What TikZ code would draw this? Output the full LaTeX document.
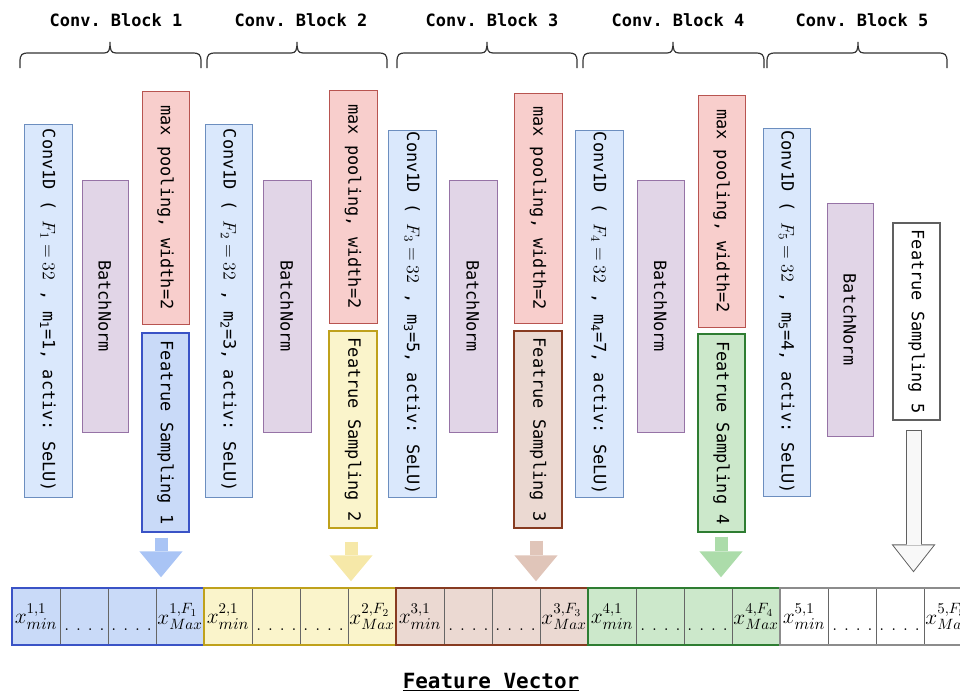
\RequirePackage{fix-cm}
\documentclass[tikz,border=0pt]{standalone}
\usepackage{fontspec}
\usepackage{graphicx}
\setmonofont{DejaVu Sans Mono}
\usetikzlibrary{arrows.meta,calc}
\definecolor{convf}{HTML}{DAE8FC}\definecolor{convd}{HTML}{6C8EBF}
\definecolor{bnf}{HTML}{E1D5E7}\definecolor{bnd}{HTML}{9673A6}
\definecolor{mpf}{HTML}{F8CECC}\definecolor{mpd}{HTML}{B85450}
\definecolor{fsAf}{HTML}{C9DAF8}\definecolor{fsAd}{HTML}{3A53C6}\definecolor{arA}{HTML}{A9C4F5}
\definecolor{fsBf}{HTML}{FAF4CB}\definecolor{fsBd}{HTML}{BFA11B}\definecolor{arB}{HTML}{F6E8A8}
\definecolor{fsCf}{HTML}{EBD9D2}\definecolor{fsCd}{HTML}{873B21}\definecolor{arC}{HTML}{E0C5B9}
\definecolor{fsDf}{HTML}{CCE8CB}\definecolor{fsDd}{HTML}{2E7D32}\definecolor{arD}{HTML}{ACDCAA}
\definecolor{fsEf}{HTML}{FFFFFF}\definecolor{fsEd}{HTML}{606060}\definecolor{arEf}{HTML}{F8F8F8}
\definecolor{vecE}{HTML}{8C8C8C}
\definecolor{braceC}{HTML}{333333}
\newcommand\mybrace[3]{%
  \draw[bracestyle] (#1,68) -- (#1,62) .. controls (#1,54) and (#1+2,53) .. (#1+9,53)
    -- (#2-6,53) .. controls (#2-1,53) and (#2,50) .. (#2,42)
    .. controls (#2,50) and (#2+1,53) .. (#2+6,53)
    -- (#3-9,53) .. controls (#3-2,53) and (#3,54) .. (#3,62) -- (#3,68);}
\newcommand\mymath[1]{{\fontsize{13.5}{15}\selectfont$#1$}}
\newcommand\myvblock[4]{%
  \node[cell, fill=#3] (v#1a) at (#2+24,616.5) {};
  \node[cell, fill=#3] (v#1b) at (#2+72,616.5) {};
  \node[cell, fill=#3] (v#1c) at (#2+120,616.5) {};
  \node[cell, fill=#3] (v#1d) at (#2+168,616.5) {};
  \node[celltext] (t#1a) at (v#1a) {$x^{#1,1}_{\scalebox{1.1}{$\scriptstyle min$}}$};
  \node[celltext] (t#1d) at (v#1d) {$x^{#1,F_#1}_{Max}$};
  \node[celltext, anchor=base] (d#1) at (#2+96,630) {\makebox[66pt]{.\hfill.\hfill.\hfill.\hfill.\hfill.\hfill.\hfill.}};
  \node[vblk, draw=#4] (vec#1) at (#2+96,616.5) {};}
\begin{document}
\begin{tikzpicture}[x=0.75pt, y=-0.75pt,
  vbox/.style args={#1/#2}{rotate=-90, minimum width=#1*0.75pt, minimum height=#2*0.75pt,
    inner sep=0pt, line width=0.75pt, font=\fontsize{12.7}{15}\selectfont\ttfamily, text=black},
  conv/.style={vbox=#1, fill=convf, draw=convd},
  bn/.style={vbox=#1, fill=bnf, draw=bnd},
  mp/.style={vbox=#1, fill=mpf, draw=mpd},
  fs/.style args={#1/#2/#3/#4}{vbox={#1/#2}, fill=#3, draw=#4, line width=1pt},
  title/.style={font=\fontsize{12.7}{15}\selectfont\ttfamily\bfseries, inner sep=0pt},
  bracestyle/.style={draw=braceC, line width=0.9pt},
  cell/.style={draw=black!60, line width=0.75pt, minimum width=36pt, minimum height=42.75pt, inner sep=0pt},
  celltext/.style={font=\fontsize{16}{18}\selectfont, inner sep=0pt},
  vblk/.style={line width=1.1pt, minimum width=144pt, minimum height=42.75pt, inner sep=0pt},
  farrow/.style={line width=9.75pt, -{Triangle[width=32.5pt,length=19.5pt,line width=0pt]}},
]
\useasboundingbox (0,0) rectangle (960,694);
% titles and braces
\node[title] (h1) at (116,20) {Conv. Block 1};
\node[title] (h2) at (301,20) {Conv. Block 2};
\node[title] (h3) at (492,20) {Conv. Block 3};
\node[title] (h4) at (678,20) {Conv. Block 4};
\node[title] (h5) at (862,20) {Conv. Block 5};
\mybrace{20}{110}{201}
\mybrace{207}{297}{387}
\mybrace{397}{487}{577}
\mybrace{583}{673}{764}
\mybrace{767}{858}{947}
% block 1
\node[conv=373/48] (c1) at (48,310.5) {Conv1D ( \mymath{F_1 = 32} , m\textsubscript{1}=1, activ: SeLU)};
\node[bn=252/46] (b1) at (105,306) {BatchNorm};
\node[mp=233/47] (p1) at (165.5,207.5) {max pooling, width=2};
\node[fs=199/47/fsAf/fsAd] (s1) at (165.5,432.5) {Featrue Sampling 1};
% block 2
\node[conv=373/47] (c2) at (228.5,310.5) {Conv1D ( \mymath{F_2 = 32} , m\textsubscript{2}=3, activ: SeLU)};
\node[bn=252/48] (b2) at (287,306) {BatchNorm};
\node[mp=233/48] (p2) at (353,206.5) {max pooling, width=2};
\node[fs=197/48/fsBf/fsBd] (s2) at (353,429.5) {Featrue Sampling 2};
% block 3
\node[conv=367/48] (c3) at (412,313.5) {Conv1D ( \mymath{F_3 = 32} , m\textsubscript{3}=5, activ: SeLU)};
\node[bn=252/48] (b3) at (473,306) {BatchNorm};
\node[mp=230/48] (p3) at (538,208) {max pooling, width=2};
\node[fs=197/48/fsCf/fsCd] (s3) at (538,429.5) {Featrue Sampling 3};
% block 4
\node[conv=367/48] (c4) at (599,313.5) {Conv1D ( \mymath{F_4 = 32} , m\textsubscript{4}=7, activ: SeLU)};
\node[bn=252/47] (b4) at (660.5,306) {BatchNorm};
\node[mp=232/47] (p4) at (721.5,211) {max pooling, width=2};
\node[fs=198/47/fsDf/fsDd] (s4) at (721.5,433) {Featrue Sampling 4};
% block 5
\node[conv=368/47] (c5) at (786.5,312) {Conv1D ( \mymath{F_5 = 32} , m\textsubscript{5}=4, activ: SeLU)};
\node[bn=233/46] (b5) at (850,319.5) {BatchNorm};
\node[fs=197/47/fsEf/fsEd] (s5) at (916.5,321.5) {Featrue Sampling 5};
% feature vector
\myvblock{1}{12}{fsAf}{fsAd}
\myvblock{2}{204}{fsBf}{fsBd}
\myvblock{3}{396}{fsCf}{fsCd}
\myvblock{4}{588}{fsDf}{fsDd}
\myvblock{5}{780}{fsEf}{vecE}
\node[font=\fontsize{15.7}{18}\selectfont\ttfamily\bfseries, anchor=base, inner sep=0pt] (fv) at (491,688) {\underline{Feature Vector}};
% arrows
\coordinate (a1) at ($(s1.east)+(-4.5,0)$);
\coordinate (a2) at ($(s2.east)+(-2,0)$);
\coordinate (a3) at ($(s3.east)+(-2,0)$);
\coordinate (a4) at ($(s4.east)+(-0.5,0)$);
\coordinate (a5) at ($(s5.east)+(-3,0)$);
\draw[farrow, arA, shorten <=3.75pt, shorten >=7.5pt] (a1) -- (a1 |- vec1.north);
\draw[farrow, arB, shorten <=9.75pt, shorten >=4.5pt] (a2) -- (a2 |- vec2.north);
\draw[farrow, arC, shorten <=9pt, shorten >=4.5pt] (a3) -- (a3 |- vec3.north);
\draw[farrow, arD, shorten <=3pt, shorten >=7.5pt] (a4) -- (a4 |- vec4.north);
\draw[line width=12pt, fsEd, -{Triangle[width=33pt,length=21pt,line width=0pt]}, shorten <=6.75pt, shorten >=11.25pt] (a5) -- (a5 |- vec5.north);
\draw[line width=10.5pt, arEf, -{Triangle[width=30pt,length=19.1pt,line width=0pt]}, shorten <=7.5pt, shorten >=12.4pt] (a5) -- (a5 |- vec5.north);
\end{tikzpicture}
\end{document}
